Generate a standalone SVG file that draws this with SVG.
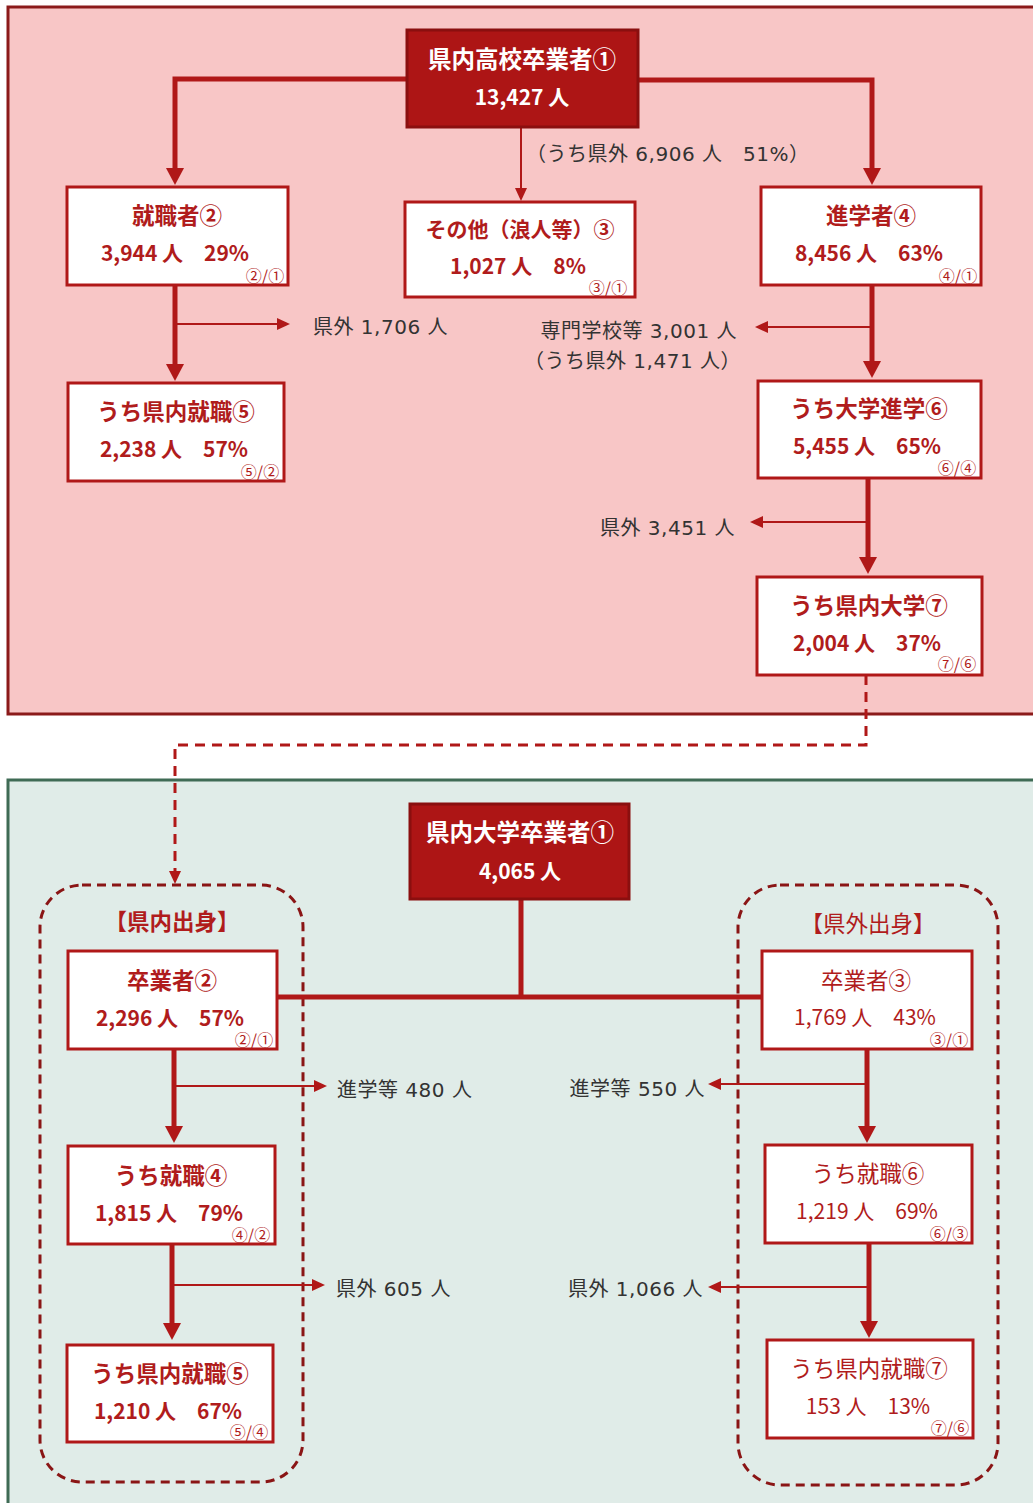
<svg xmlns="http://www.w3.org/2000/svg" width="1033" height="1503" viewBox="0 0 1033 1503">
<defs>
<style>
.t{font-family:"Noto Sans CJK JP","Noto Sans",sans-serif;text-anchor:middle}
.w{fill:#ffffff;font-weight:bold;font-size:23.5px}
.wn{fill:#ffffff;font-weight:bold;font-size:21px}
.box{fill:#ffffff;stroke:#b01818;stroke-width:3}
.dark{fill:#ad1515;stroke:#8a0f0f;stroke-width:3}
.ttl{fill:#b01c1c;font-weight:bold;font-size:22.5px}
.ttn{fill:#b01c1c;font-weight:normal;font-size:22.5px}
.num{fill:#b01c1c;font-size:21px}
.numb{fill:#b01c1c;font-size:21px;font-weight:bold}
.sm{fill:#b01c1c;font-size:16px}
.lab{font-family:"DejaVu Sans","Noto Sans CJK JP",sans-serif;fill:#333333;font-size:20px;letter-spacing:0.5px}
.thick{fill:none;stroke:#b01818;stroke-width:5}
.thin{fill:none;stroke:#b01818;stroke-width:2}
.dash{fill:none;stroke:#b01818;stroke-width:3;stroke-dasharray:10 7}
.grp{fill:none;stroke:#8a1515;stroke-width:3;stroke-dasharray:9 6}
</style>
<marker id="ah" markerUnits="userSpaceOnUse" viewBox="0 0 17 18" refX="0" refY="9" markerWidth="17" markerHeight="18" orient="auto"><path d="M0,0 L17,9 L0,18 z" fill="#b01818"/></marker>
<marker id="as" markerUnits="userSpaceOnUse" viewBox="0 0 13 12" refX="0" refY="6" markerWidth="13" markerHeight="12" orient="auto"><path d="M0,0 L13,6 L0,12 z" fill="#b01818"/></marker>
</defs>
<rect x="8" y="7" width="1040" height="707" fill="#f8c6c6" stroke="#8b1a1a" stroke-width="3"/>
<rect x="8" y="780" width="1040" height="740" fill="#e0ece8" stroke="#3f6b55" stroke-width="3"/>
<g id="groups">
<rect x="40" y="885" width="263" height="597" rx="42" class="grp"/>
<rect x="738" y="885" width="260" height="600" rx="42" class="grp"/>
<text x="172" y="930" class="t ttl">【県内出身】</text>
<text x="868" y="932" class="t ttn">【県外出身】</text>
</g>
<g id="connectors">
<path d="M407,79 H175 V168" class="thick" marker-end="url(#ah)"/>
<path d="M638,80 H872 V168" class="thick" marker-end="url(#ah)"/>
<path d="M521,128 V188" class="thin" marker-end="url(#as)"/>
<path d="M175,285 V364" class="thick" marker-end="url(#ah)"/>
<path d="M175,324 H277" class="thin" marker-end="url(#as)"/>
<path d="M872,285 V361" class="thick" marker-end="url(#ah)"/>
<path d="M872,327 H768" class="thin" marker-end="url(#as)"/>
<path d="M868,478 V557" class="thick" marker-end="url(#ah)"/>
<path d="M868,522 H763" class="thin" marker-end="url(#as)"/>
<path d="M866,675 V745 H175 V871" class="dash" marker-end="url(#as)"/>
<path d="M521,899 V997" class="thick"/>
<path d="M278,997 H762" class="thick"/>
<path d="M174,1049 V1126" class="thick" marker-end="url(#ah)"/>
<path d="M174,1086 H314" class="thin" marker-end="url(#as)"/>
<path d="M172,1244 V1323" class="thick" marker-end="url(#ah)"/>
<path d="M172,1285 H312" class="thin" marker-end="url(#as)"/>
<path d="M867,1049 V1126" class="thick" marker-end="url(#ah)"/>
<path d="M867,1084 H721" class="thin" marker-end="url(#as)"/>
<path d="M869,1243 V1321" class="thick" marker-end="url(#ah)"/>
<path d="M869,1287 H721" class="thin" marker-end="url(#as)"/>
</g>
<g id="labels">
<text x="526" y="161" class="lab" style="text-anchor:start">（うち県外 6,906 人　51%）</text>
<text x="313" y="334" class="lab" style="text-anchor:start">県外 1,706 人</text>
<text x="737" y="338" class="lab" style="text-anchor:end">専門学校等 3,001 人</text>
<text x="741" y="368" class="lab" style="text-anchor:end">（うち県外 1,471 人）</text>
<text x="735" y="535" class="lab" style="text-anchor:end">県外 3,451 人</text>
<text x="337" y="1097" class="lab" style="text-anchor:start">進学等 480 人</text>
<text x="705" y="1096" class="lab" style="text-anchor:end">進学等 550 人</text>
<text x="336" y="1296" class="lab" style="text-anchor:start">県外 605 人</text>
<text x="703" y="1296" class="lab" style="text-anchor:end">県外 1,066 人</text>
</g>
<g id="hs1">
<rect x="407" y="30" width="231" height="97" class="dark"/>
<text x="522" y="68" class="t w">県内高校卒業者①</text>
<text x="522" y="105" class="t wn">13,427 人</text>
</g>
<g id="hs2">
<rect x="67" y="187" width="221" height="98" class="box"/>
<text x="177" y="224" class="t ttl">就職者②</text>
<text x="175" y="261" class="t numb">3,944 人　29%</text>
<text x="265" y="282" class="t sm">②/①</text>
</g>
<g id="hs3">
<rect x="405" y="202" width="230" height="95" class="box"/>
<text x="520" y="237" class="t ttl" style="font-size:21px">その他（浪人等）③</text>
<text x="518" y="274" class="t numb">1,027 人　8%</text>
<text x="608" y="294" class="t sm">③/①</text>
</g>
<g id="hs4">
<rect x="761" y="187" width="220" height="98" class="box"/>
<text x="871" y="224" class="t ttl">進学者④</text>
<text x="869" y="261" class="t numb">8,456 人　63%</text>
<text x="958" y="282" class="t sm">④/①</text>
</g>
<g id="hs5">
<rect x="68" y="383" width="216" height="98" class="box"/>
<text x="176" y="420" class="t ttl">うち県内就職⑤</text>
<text x="174" y="457" class="t numb">2,238 人　57%</text>
<text x="260" y="478" class="t sm">⑤/②</text>
</g>
<g id="hs6">
<rect x="758" y="381" width="223" height="97" class="box"/>
<text x="869" y="417" class="t ttl">うち大学進学⑥</text>
<text x="867" y="454" class="t numb">5,455 人　65%</text>
<text x="957" y="474" class="t sm">⑥/④</text>
</g>
<g id="hs7">
<rect x="757" y="577" width="225" height="98" class="box"/>
<text x="869" y="614" class="t ttl">うち県内大学⑦</text>
<text x="867" y="651" class="t numb">2,004 人　37%</text>
<text x="957" y="670" class="t sm">⑦/⑥</text>
</g>
<g id="u1">
<rect x="410" y="804" width="219" height="95" class="dark"/>
<text x="520" y="841" class="t w">県内大学卒業者①</text>
<text x="520" y="879" class="t wn">4,065 人</text>
</g>
<g id="u2">
<rect x="68" y="951" width="209" height="98" class="box"/>
<text x="172" y="989" class="t ttl">卒業者②</text>
<text x="170" y="1026" class="t numb">2,296 人　57%</text>
<text x="254" y="1046" class="t sm">②/①</text>
</g>
<g id="u4">
<rect x="68" y="1146" width="207" height="98" class="box"/>
<text x="171" y="1184" class="t ttl">うち就職④</text>
<text x="169" y="1221" class="t numb">1,815 人　79%</text>
<text x="251" y="1241" class="t sm">④/②</text>
</g>
<g id="u5">
<rect x="67" y="1345" width="206" height="97" class="box"/>
<text x="170" y="1382" class="t ttl">うち県内就職⑤</text>
<text x="168" y="1419" class="t numb">1,210 人　67%</text>
<text x="249" y="1438" class="t sm">⑤/④</text>
</g>
<g id="u3">
<rect x="762" y="951" width="210" height="98" class="box"/>
<text x="866" y="989" class="t ttn">卒業者③</text>
<text x="865" y="1025" class="t num">1,769 人　43%</text>
<text x="949" y="1046" class="t sm">③/①</text>
</g>
<g id="u6">
<rect x="765" y="1145" width="207" height="98" class="box"/>
<text x="868" y="1182" class="t ttn">うち就職⑥</text>
<text x="867" y="1219" class="t num">1,219 人　69%</text>
<text x="949" y="1240" class="t sm">⑥/③</text>
</g>
<g id="u7">
<rect x="767" y="1340" width="206" height="98" class="box"/>
<text x="869" y="1377" class="t ttn">うち県内就職⑦</text>
<text x="868" y="1414" class="t num">153 人　13%</text>
<text x="950" y="1434" class="t sm">⑦/⑥</text>
</g>
</svg>
